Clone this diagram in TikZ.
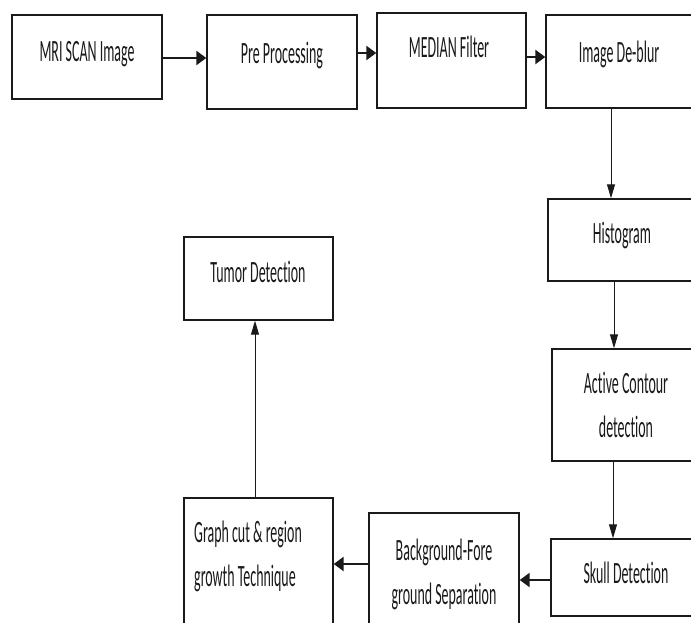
\documentclass[tikz,border=0pt]{standalone}
\usepackage{fontspec}
\usetikzlibrary{arrows.meta}
\newfontfamily\calfont[FakeStretch=0.45,RawFeature={-liga;-clig}]{Carlito}
\definecolor{ink}{HTML}{1A1A1A}
\begin{document}
\begin{tikzpicture}[x=1pt,y=-1pt,
  box/.style={draw=ink,line width=1.4pt,fill=white,inner sep=0pt},
  txt/.style={anchor=base,inner sep=0pt,text=ink,font=\calfont\fontsize{31}{44}\selectfont},
  harrow/.style={draw=ink,line width=2.4pt,-{Triangle[length=10pt,width=14pt]}},
  varrow/.style={draw=ink,line width=1pt,-{Triangle[length=14pt,width=8pt]}}]
\clip (0,0) rectangle (691,622);
\fill[white] (0,0) rectangle (691,622);
% boxes
\node[box,minimum width=150pt,minimum height=84pt] (mri) at (87,57) {};
\node[box,minimum width=150pt,minimum height=94pt] (pre) at (282,62) {};
\node[box,minimum width=149pt,minimum height=95pt] (med) at (451.5,60.5) {};
\node[box,minimum width=154pt,minimum height=93pt] (deb) at (623,61.5) {};
\node[box,minimum width=152pt,minimum height=82pt] (hist) at (624,240) {};
\node[box,minimum width=148pt,minimum height=112pt] (act) at (626,405) {};
\node[box,minimum width=149pt,minimum height=77pt] (skull) at (625.5,577.5) {};
\node[box,minimum width=150pt,minimum height=127pt] (bg) at (444,576.5) {};
\node[box,minimum width=149pt,minimum height=142pt] (gc) at (258.5,569) {};
\node[box,minimum width=149pt,minimum height=83pt] (tum) at (258.5,278.5) {};
% texts
\node[txt] (mri-t) at (87,61) {MRI SCAN Image};
\node[txt] (pre-t) at (282,63) {Pre Processing};
\node[txt] (med-t) at (449,57) {MEDIAN Filter};
\node[txt] (deb-t) at (619,62) {Image De-blur};
\node[txt] (hist-t) at (622,243) {Histogram};
\node[txt] (act-t) at (626,393) {\begin{tabular}[t]{@{}c@{}}Active Contour\\detection\end{tabular}};
\node[txt] (skull-t) at (626,583) {Skull Detection};
\node[txt] (bg-t) at (444,560) {\begin{tabular}[t]{@{}c@{}}Background-Fore\\ground Separation\end{tabular}};
\node[txt,anchor=base west] (gc-t) at (194,542) {\begin{tabular}[t]{@{}l@{}}Graph cut \& region\\growth Technique\end{tabular}};
\node[txt] (tum-t) at (258,282) {Tumor Detection};
% row levels
\coordinate (r1) at (0,58);
\coordinate (r2) at (0,53);
\coordinate (r3) at (0,57);
\coordinate (c1) at (611,0);
\coordinate (c2) at (614,0);
\coordinate (c3) at (613,0);
\coordinate (r4) at (0,580);
\coordinate (r5) at (0,564);
\coordinate (c4) at (255,0);
% connectors
\draw[harrow] (mri.east |- r1) -- (pre.west |- r1);
\draw[harrow] (pre.east |- r2) -- (med.west |- r2);
\draw[harrow] (med.east |- r3) -- (deb.west |- r3);
\draw[varrow] (deb.south -| c1) -- (hist.north -| c1);
\draw[varrow] (hist.south -| c2) -- (act.north -| c2);
\draw[varrow] (act.south -| c3) -- (skull.north -| c3);
\draw[harrow] (skull.west |- r4) -- (bg.east |- r4);
\draw[harrow] (bg.west |- r5) -- (gc.east |- r5);
\draw[varrow] (gc.north -| c4) -- (tum.south -| c4);
\end{tikzpicture}
\end{document}
